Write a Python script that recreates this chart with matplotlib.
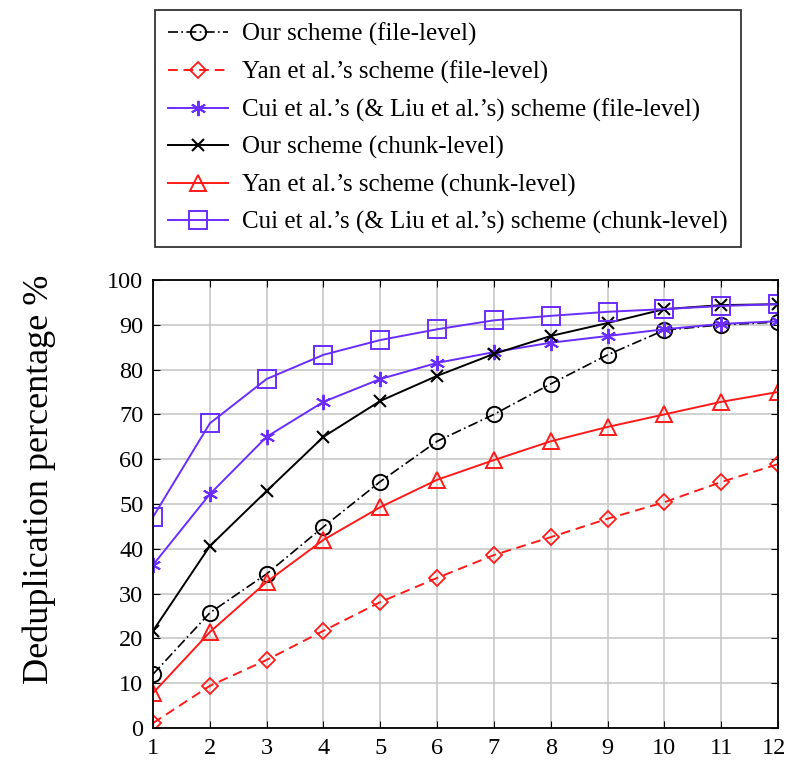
import matplotlib.pyplot as plt
import matplotlib.transforms as mtransforms
from matplotlib.ticker import MultipleLocator

plt.rcParams['font.family'] = ['Liberation Serif', 'DejaVu Serif']

# data
x = list(range(1, 13))
our_file = [12.0, 25.7, 34.4, 44.9, 55.0, 64.0, 70.0, 76.8, 83.3, 88.8, 90.0, 90.6]
yan_file = [1.1, 9.4, 15.2, 21.7, 28.1, 33.5, 38.6, 42.6, 46.7, 50.4, 54.9, 58.9]
cui_file = [36.4, 52.2, 65.0, 72.8, 77.9, 81.5, 83.9, 86.0, 87.5, 89.0, 90.2, 90.8]
our_chunk = [21.7, 40.6, 52.9, 65.0, 73.0, 78.6, 83.5, 87.5, 90.4, 93.5, 94.4, 94.6]
yan_chunk = [7.8, 21.4, 32.6, 42.0, 49.3, 55.4, 59.8, 64.0, 67.2, 70.0, 72.8, 75.0]
cui_chunk = [47.1, 68.0, 77.9, 83.3, 86.6, 89.0, 91.0, 92.0, 92.9, 93.5, 94.2, 94.6]

labels = [
    "Our scheme (file-level)",
    "Yan et al.'s scheme (file-level)",
    "Cui et al.'s (& Liu et al.'s) scheme (file-level)",
    "Our scheme (chunk-level)",
    "Yan et al.'s scheme (chunk-level)",
    "Cui et al.'s (& Liu et al.'s) scheme (chunk-level)",
]
labels = [s.replace("'", "\u2019") for s in labels]

violet = '#6a2cff'
red = '#ff1a1a'

fig = plt.figure(figsize=(7.88, 7.63), dpi=100)
ax = fig.add_axes([153 / 788, 1 - 728 / 763, 625 / 788, 448 / 763])

ax.plot(x, our_file, color='black', linestyle=(0, (6, 2, 1, 2)), lw=1.2,
        marker='o', ms=11, mfc='none', mew=1.4, label=labels[0])
ax.plot(x, yan_file, color=red, linestyle=(0, (5, 3)), lw=1.4,
        marker='D', ms=8, mfc='none', mew=1.3, label=labels[1])
ax.plot(x, cui_file, color=violet, lw=1.4,
        marker=(6, 2, 0), ms=11, mew=1.4, label=labels[2])
ax.plot(x, our_chunk, color='black', lw=1.4,
        marker='x', ms=8, mew=1.5, label=labels[3])
ax.plot(x, yan_chunk, color=red, lw=1.4,
        marker='^', ms=11, mfc='none', mew=1.4, label=labels[4])
ax.plot(x, cui_chunk, color=violet, lw=1.4,
        marker='s', ms=13, mfc='none', mew=1.4, label=labels[5])

ax.set_xlim(1, 12)
ax.set_ylim(0, 100)
ax.set_xticks(x)
ax.yaxis.set_major_locator(MultipleLocator(10))
ax.grid(True, color='#c8c8c8', lw=1.2)
ax.set_axisbelow(True)
ax.tick_params(direction='in', top=True, right=True, labelsize=17.5, length=5,
               pad=7)
for sp in ax.spines.values():
    sp.set_linewidth(1.3)
ax.set_ylabel('Deduplication percentage %', fontsize=26)
ax.yaxis.set_label_coords(-0.155, 0.555)

# nudge the last x tick label so it stays inside the figure
last = ax.get_xticklabels()[-1]
last.set_transform(last.get_transform() +
                   mtransforms.ScaledTranslation(-4 / 100, 0, fig.dpi_scale_trans))

handles, labs = ax.get_legend_handles_labels()
fig.legend(handles, labs, loc='upper left',
           bbox_to_anchor=(155 / 788, 1 - 10 / 763), fontsize=18,
           frameon=True, fancybox=False, edgecolor='black',
           handlelength=2.4, handletextpad=0.6, labelspacing=0.58,
           borderpad=0.5, borderaxespad=0)
fig.legends[0].get_frame().set_linewidth(1.3)

plt.savefig('out.png', dpi=100)
